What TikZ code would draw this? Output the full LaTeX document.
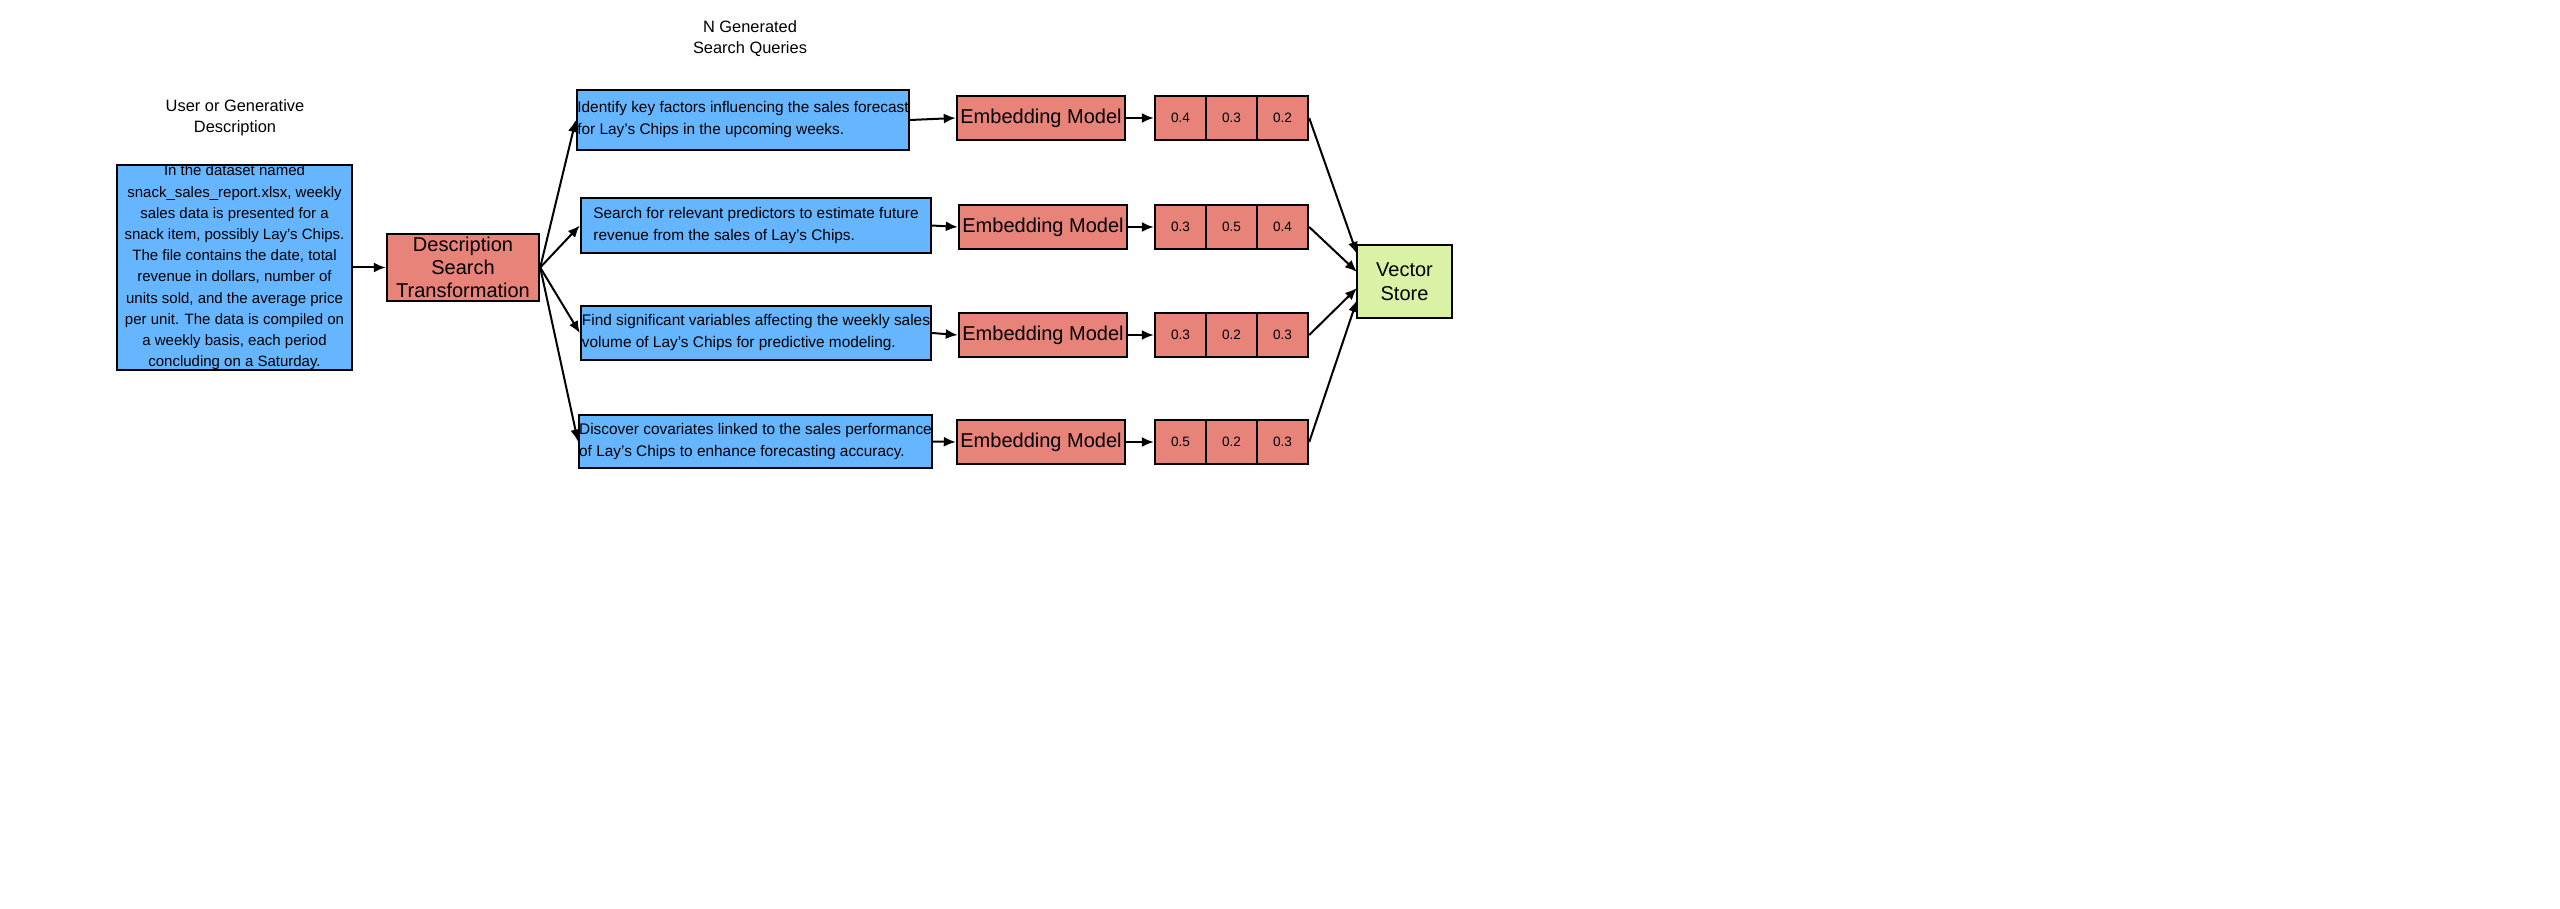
\documentclass[tikz,border=0pt]{standalone}
\usepackage{fontspec}
\setmainfont{Liberation Sans}
\usetikzlibrary{arrows.meta,calc}
\definecolor{bb}{HTML}{66B5FF}
\definecolor{rr}{HTML}{E8837A}
\definecolor{gg}{HTML}{D9F2A6}
\begin{document}
\begin{tikzpicture}[x=0.5pt,y=-0.5pt,
 box/.style={draw=black,line width=1.2pt,inner sep=0pt},
 arr/.style={-{Latex[length=6pt,width=5pt]},line width=1pt},
 lbl/.style={font=\fontsize{8.2}{10.5}\selectfont,align=center}]
\useasboundingbox (0,0) rectangle (2560,909);
\node[lbl] (t1) at (235,118) {User or Generative\\Description};
\node[lbl] (t2) at (750,39) {N Generated\\Search Queries};
\node[box,fill=bb,minimum width=117.5pt,minimum height=87.5pt,align=center,font=\fontsize{7.5}{10.6}\selectfont] (d) at (234.5,267.5)
 {In the dataset named\\snack\_sales\_report.xlsx, weekly\\sales data is presented for a\\snack item, possibly Lay's Chips.\\The file contains the date, total\\revenue in dollars, number of\\units sold, and the average price\\per unit. The data is compiled on\\a weekly basis, each period\\concluding on a Saturday.};
\node[box,fill=rr,minimum width=76pt,minimum height=33.5pt,align=center,font=\fontsize{10}{11.5}\selectfont] (t) at (463,267.5) {Description\\Search\\Transformation};
\foreach \i/\xa/\xb/\ya/\yb/\txt in {
 1/577/909/90/150/{Identify key factors influencing the sales forecast\\for Lay's Chips in the upcoming weeks.},
 2/581/931/198/253/{Search for relevant predictors to estimate future\\revenue from the sales of Lay's Chips.},
 3/581/931/306/360/{Find significant variables affecting the weekly sales\\volume of Lay's Chips for predictive modeling.},
 4/580/931/415/468/{Discover covariates linked to the sales performance\\of Lay's Chips to enhance forecasting accuracy.}}{
 \node[box,fill=bb,minimum width={(\xb-\xa)*0.5pt},minimum height={(\yb-\ya)*0.5pt},font=\fontsize{7.7}{11}\selectfont,align=left] (q\i) at ({(\xa+\xb)/2},{(\ya+\yb)/2}) {\txt};
 \draw[arr] (t.east) -- (q\i.west);
}
\foreach \i/\xa/\ya/\a/\b/\c in {1/957/96/0.4/0.3/0.2, 2/959/205/0.3/0.5/0.4, 3/959/313/0.3/0.2/0.3, 4/957/420/0.5/0.2/0.3}{
 \node[box,fill=rr,minimum width=84pt,minimum height=22pt,font=\fontsize{10}{12}\selectfont] (e\i) at ({\xa+84},{\ya+22}) {Embedding Model};
 \draw[arr] (q\i.east) -- (e\i.west);
 \node[box,fill=rr,minimum width=25.5pt,minimum height=22pt,font=\fontsize{6.8}{8}\selectfont] (v\i a) at ({1155+25.5},{\ya+22}) {\a};
 \node[box,fill=rr,minimum width=25.5pt,minimum height=22pt,font=\fontsize{6.8}{8}\selectfont] (v\i b) at ({1206+25.5},{\ya+22}) {\b};
 \node[box,fill=rr,minimum width=25.5pt,minimum height=22pt,font=\fontsize{6.8}{8}\selectfont] (v\i c) at ({1257+25.5},{\ya+22}) {\c};
 \draw[arr] (e\i.east) -- (v\i a.west);
}
\node[box,fill=gg,minimum width=47.5pt,minimum height=36.5pt,align=center,font=\fontsize{10}{12}\selectfont] (vs) at (1404.5,281.5) {Vector\\Store};
\coordinate (s1) at (1357,254);
\coordinate (s2) at (1357,272);
\coordinate (s3) at (1357,288);
\coordinate (s4) at (1357,300);
\draw[arr] (v1c.east) -- (s1);
\draw[arr] (v2c.east) -- (s2);
\draw[arr] (v3c.east) -- (s3);
\draw[arr] (v4c.east) -- (s4);
\draw[arr] (d.east) -- (t.west);
\end{tikzpicture}
\end{document}
